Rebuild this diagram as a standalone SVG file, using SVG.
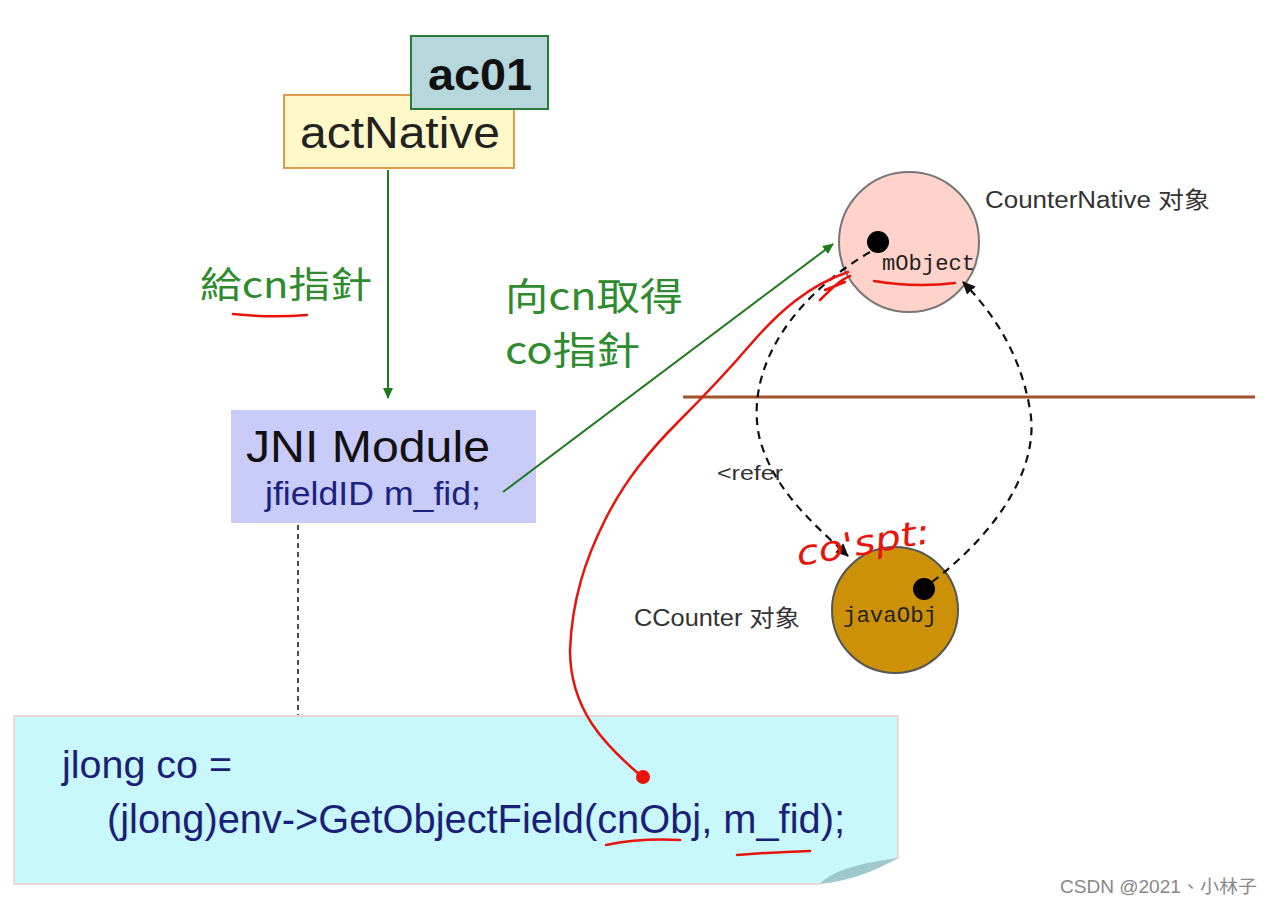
<svg xmlns="http://www.w3.org/2000/svg" width="1273" height="904" viewBox="0 0 1273 904">
<style>
.sans{font-family:"Liberation Sans",Arial,sans-serif}
.cjk{font-family:"Noto Sans CJK TC","Noto Sans CJK SC",sans-serif}
.mono{font-family:"Liberation Mono","DejaVu Sans Mono",monospace}
.green{fill:#2e8b2e}
.dash{fill:none;stroke:#111;stroke-width:2.2;stroke-dasharray:8 6}
.red{fill:none;stroke:#e8140c;stroke-width:2.5;stroke-linecap:round}
</style>
<defs>
<marker id="ag" markerWidth="12" markerHeight="12" refX="10" refY="5" orient="auto" markerUnits="userSpaceOnUse"><path d="M0,0 L11,5 L0,10 Z" fill="#1e7a1e"/></marker>
<marker id="ab" markerWidth="14" markerHeight="14" refX="12" refY="6" orient="auto" markerUnits="userSpaceOnUse"><path d="M0,0 L13,6 L0,12 Z" fill="#111"/></marker>
</defs>
<rect width="1273" height="904" fill="#fff"/>

<g id="actNative">
<rect x="284" y="95" width="230" height="73" fill="#fff8c8" stroke="#e09a50" stroke-width="2"/>
<text x="300" y="148" class="sans" font-size="44" textLength="200" lengthAdjust="spacingAndGlyphs" fill="#222">actNative</text>
</g>
<g id="ac01">
<rect x="411" y="36" width="137" height="73" fill="#b6d8dc" stroke="#2a7a3a" stroke-width="2"/>
<text x="428" y="90" class="sans" font-size="44" font-weight="bold" textLength="104" lengthAdjust="spacingAndGlyphs" fill="#111">ac01</text>
</g>

<g id="jni">
<rect x="231" y="410" width="305" height="113" fill="#c9cbf9"/>
<text x="246" y="462" class="sans" font-size="45" textLength="244" lengthAdjust="spacingAndGlyphs" fill="#111">JNI Module</text>
<text x="265" y="505" class="sans" font-size="33" textLength="216" lengthAdjust="spacingAndGlyphs" fill="#1c2280">jfieldID m_fid;</text>
</g>

<g id="counterNative">
<circle cx="909" cy="242" r="70" fill="#ffd2ca" stroke="#777" stroke-width="2"/>
<circle cx="878" cy="242" r="11" fill="#000"/>
<text x="882" y="270" class="mono" font-size="22" textLength="93" lengthAdjust="spacingAndGlyphs" fill="#222">mObject</text>
<text x="985" y="208" class="sans" font-size="23" textLength="225" lengthAdjust="spacingAndGlyphs" fill="#333">CounterNative <tspan class="cjk">对象</tspan></text>
</g>

<g id="ccounter">
<circle cx="895" cy="610" r="63" fill="#cc9106" stroke="#555" stroke-width="2"/>
<circle cx="924" cy="589" r="11" fill="#000"/>
<text x="843" y="622" class="mono" font-size="22" textLength="94" lengthAdjust="spacingAndGlyphs" fill="#222">javaObj</text>
<text x="634" y="626" class="sans" font-size="23" textLength="166" lengthAdjust="spacingAndGlyphs" fill="#333">CCounter <tspan class="cjk">对象</tspan></text>
</g>

<g id="code">
<path d="M14,716 H898 V858 L820,884 H14 Z" fill="#c8f7fc" stroke="#ecd0d0" stroke-width="1.5"/>
<path d="M820,884 Q835,866 898,858 Q860,880 820,884 Z" fill="#9fc8cc"/>
<text x="62" y="778" class="sans" font-size="38" textLength="170" lengthAdjust="spacingAndGlyphs" fill="#1b1f78">jlong co =</text>
<text x="107" y="833" class="sans" font-size="40" textLength="738" lengthAdjust="spacingAndGlyphs" fill="#1b1f78">(jlong)env-&gt;GetObjectField(cnObj, m_fid);</text>
</g>

<g id="divider">
<line x1="683" y1="397" x2="1255" y2="397" stroke="#a0522d" stroke-width="3"/>
</g>

<g id="connectors">
<line x1="388" y1="170" x2="388" y2="398" stroke="#1e7a1e" stroke-width="2" marker-end="url(#ag)"/>
<line x1="503" y1="492" x2="833" y2="244" stroke="#1e7a1e" stroke-width="2" marker-end="url(#ag)"/>
<path class="dash" d="M870,252 C780,305 745,380 760,440 C775,492 815,525 848,556" marker-end="url(#ab)"/>
<path class="dash" d="M932,582 C1000,530 1040,465 1030,410 C1020,350 990,310 963,282" marker-end="url(#ab)"/>
<line x1="298" y1="525" x2="298" y2="715" stroke="#111" stroke-width="1.5" stroke-dasharray="5 4"/>
</g>

<g id="labels">
<text x="200" y="298" class="cjk green" font-size="36" textLength="172" lengthAdjust="spacingAndGlyphs">給cn指針</text>
<text x="505" y="310" class="cjk green" font-size="38" textLength="178" lengthAdjust="spacingAndGlyphs">向cn取得</text>
<text x="505" y="364" class="cjk green" font-size="38" textLength="135" lengthAdjust="spacingAndGlyphs">co指針</text>
<text x="717" y="480" class="sans" font-size="20" textLength="66" lengthAdjust="spacingAndGlyphs" fill="#333">&lt;refer</text>
<text x="1060" y="893" class="sans" font-size="18" textLength="197" lengthAdjust="spacingAndGlyphs" fill="#888">CSDN @2021<tspan class="cjk">、小林子</tspan></text>
</g>

<g id="annotations">
<path class="red" d="M233,314 Q270,318 307,315"/>
<path class="red" d="M874,281 Q915,288 955,283" stroke-width="4"/>
<path class="red" d="M606,845 Q640,838 680,840"/>
<path class="red" d="M737,855 Q775,852 810,851"/>
<path class="red" d="M848,272 C810,285 780,310 750,345 C720,380 700,400 680,420 C650,450 625,480 605,520 C585,560 572,600 570,650 C570,710 605,745 640,775"/>
<path class="red" d="M820,300 C830,290 840,280 850,276 M825,290 L845,282"/>
<circle cx="643" cy="777" r="7" fill="#e8140c"/>
<text x="795" y="555" font-family="DejaVu Sans,sans-serif" font-style="italic" font-size="34" fill="#e8140c" transform="rotate(-10 860 540)" textLength="135" lengthAdjust="spacingAndGlyphs">co'spt:</text>
</g>
</svg>
